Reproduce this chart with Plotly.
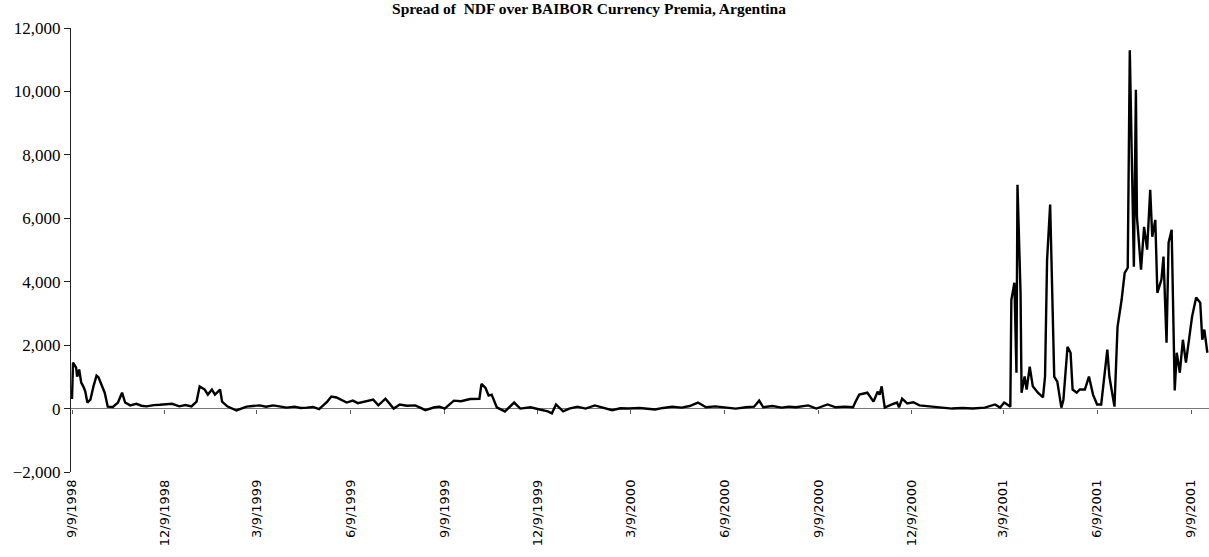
import plotly.graph_objects as go

# Dates and spread values (basis points)
dates = [
    "1998-09-09", "1998-09-10", "1998-09-13", "1998-09-14", "1998-09-16", "1998-09-18",
    "1998-09-20", "1998-09-22", "1998-09-24", "1998-09-27", "1998-09-30", "1998-10-03",
    "1998-10-05", "1998-10-08", "1998-10-11", "1998-10-14", "1998-10-19", "1998-10-24",
    "1998-10-28", "1998-10-31", "1998-11-05", "1998-11-11", "1998-11-16", "1998-11-21",
    "1998-11-28", "1998-12-04", "1998-12-10", "1998-12-16", "1998-12-23", "1998-12-29",
    "1999-01-04", "1999-01-09", "1999-01-12", "1999-01-17",
    "1999-01-20", "1999-01-24", "1999-01-27", "1999-02-01", "1999-02-03", "1999-02-08",
    "1999-02-17", "1999-02-22", "1999-02-27", "1999-03-05", "1999-03-12", "1999-03-18",
    "1999-03-25", "1999-03-31", "1999-04-07", "1999-04-15", "1999-04-21", "1999-04-27",
    "1999-05-03", "1999-05-09", "1999-05-17", "1999-05-21", "1999-05-26", "1999-06-05",
    "1999-06-11", "1999-06-16",
    "1999-06-22", "1999-07-01", "1999-07-06", "1999-07-13", "1999-07-21", "1999-07-27",
    "1999-08-03", "1999-08-11", "1999-08-16", "1999-08-21", "1999-08-30", "1999-09-04",
    "1999-09-09", "1999-09-18", "1999-09-25", "1999-10-04",
    "1999-10-13", "1999-10-15", "1999-10-19", "1999-10-22", "1999-10-25", "1999-10-30",
    "1999-11-07", "1999-11-16", "1999-11-22", "1999-12-02", "1999-12-10", "1999-12-19",
    "1999-12-23", "1999-12-27", "2000-01-03", "2000-01-09", "2000-01-17", "2000-01-25",
    "2000-02-03", "2000-02-12", "2000-02-20", "2000-02-28", "2000-03-07", "2000-03-18",
    "2000-03-25", "2000-04-02", "2000-04-10", "2000-04-19", "2000-04-28", "2000-05-06",
    "2000-05-14", "2000-05-22", "2000-05-31", "2000-06-09", "2000-06-20", "2000-06-30",
    "2000-07-08", "2000-07-13", "2000-07-17", "2000-07-26", "2000-08-04", "2000-08-11",
    "2000-08-18", "2000-08-30", "2000-09-07", "2000-09-18",
    "2000-09-26", "2000-10-05", "2000-10-13", "2000-10-15", "2000-10-19", "2000-10-27",
    "2000-11-02", "2000-11-06", "2000-11-08", "2000-11-10", "2000-11-13", "2000-11-20",
    "2000-11-25", "2000-11-27", "2000-11-30", "2000-12-05", "2000-12-11", "2000-12-17",
    "2000-12-23", "2000-12-30", "2001-01-08", "2001-01-18", "2001-01-28",
    "2001-02-07", "2001-02-19", "2001-03-01", "2001-03-06", "2001-03-10", "2001-03-13",
    "2001-03-16", "2001-03-17", "2001-03-20", "2001-03-22", "2001-03-23", "2001-03-26",
    "2001-03-27", "2001-03-30", "2001-04-01", "2001-04-04", "2001-04-07", "2001-04-12",
    "2001-04-17", "2001-04-19", "2001-04-21", "2001-04-24", "2001-04-25", "2001-04-28",
    "2001-05-01", "2001-05-05", "2001-05-07", "2001-05-11", "2001-05-14", "2001-05-16",
    "2001-05-20", "2001-05-23", "2001-05-28", "2001-06-01", "2001-06-05", "2001-06-09",
    "2001-06-13", "2001-06-19", "2001-06-21", "2001-06-26", "2001-06-29", "2001-07-03",
    "2001-07-06", "2001-07-09", "2001-07-11", "2001-07-13", "2001-07-15", "2001-07-17",
    "2001-07-18", "2001-07-22", "2001-07-25", "2001-07-28", "2001-07-31", "2001-08-02",
    "2001-08-05", "2001-08-07", "2001-08-11", "2001-08-13", "2001-08-16", "2001-08-18",
    "2001-08-21", "2001-08-24", "2001-08-26", "2001-08-29", "2001-09-01", "2001-09-04",
    "2001-09-10", "2001-09-14", "2001-09-18", "2001-09-20", "2001-09-22", "2001-09-25",
]
spread = [
    300, 1450, 1290, 1010, 1230, 820,
    700, 540, 190, 280, 700, 1040,
    980, 760, 500, 60, 50, 190,
    500, 190, 100, 150, 90, 70,
    110, 120, 130, 150, 70, 110,
    70, 220, 700, 600,
    440, 600, 440, 600, 220, 70,
    -60, 10, 60, 80, 100, 60,
    100, 70, 30, 60, 20, 30,
    50, -20, 220, 380, 350, 190,
    250, 170,
    220, 280, 100, 310, 0, 130,
    90, 100, 30, -50, 40, 60,
    0, 250, 230, 300,
    310, 780, 650, 410, 440, 40,
    -90, 190, 0, 40, -20, -90,
    -150, 130, -90, 0, 60, 0,
    100, 30, -50, 10, 0, 20,
    -10, -30, 20, 60, 30, 80,
    190, 40, 70, 30, 0, 40,
    60, 250, 40, 80, 30, 60,
    40, 100, 0, 130,
    40, 60, 40, 190, 440, 500,
    220, 530, 440, 700, 30, 130,
    190, 40, 310, 160, 200, 100,
    80, 60, 30, 0, 20,
    0, 30, 130, 30, 190, 130,
    60, 3430, 3970, 1130, 7060, 3650,
    500, 1010, 600, 1320, 700, 500,
    350, 1010, 4690, 6430, 4910, 1010,
    850, 30, 280, 1950, 1760, 600,
    500, 600, 600, 1010, 440, 130,
    130, 1860, 1010, 60, 2580, 3430,
    4280, 4440, 11300, 7300, 4470, 10050,
    6050, 4380, 5730, 5010, 6900, 5420,
    5950, 3650, 4070, 4790, 2080, 5230,
    5640, 570, 1760, 1130, 2170, 1450,
    2900, 3500, 3340, 2170, 2490, 1760,
]

tick_dates = [
    "1998-09-09", "1998-12-09", "1999-03-09", "1999-06-09", "1999-09-09", "1999-12-09",
    "2000-03-09", "2000-06-09", "2000-09-09", "2000-12-09", "2001-03-09", "2001-06-09",
    "2001-09-09",
]
tick_labels = [
    "9/9/1998", "12/9/1998", "3/9/1999", "6/9/1999", "9/9/1999", "12/9/1999",
    "3/9/2000", "6/9/2000", "9/9/2000", "12/9/2000", "3/9/2001", "6/9/2001",
    "9/9/2001",
]
y_ticks = [-2000, 0, 2000, 4000, 6000, 8000, 10000, 12000]

fig = go.Figure()
fig.add_trace(go.Scatter(
    x=dates, y=spread, mode="lines",
    line=dict(color="#000000", width=2.4),
    showlegend=False, hoverinfo="x+y",
))
# helper (empty) trace so the tick axis on the zero line is rendered
fig.add_trace(go.Scatter(x=[], y=[], xaxis="x2", showlegend=False))

x_range = ["1998-09-08", "2001-09-26 14:00"]

fig.update_layout(
    width=1209, height=557,
    margin=dict(l=71, r=0, t=28, b=85),
    paper_bgcolor="white", plot_bgcolor="white",
    title=dict(
        text="<b>Spread of  NDF over BAIBOR Currency Premia, Argentina</b>",
        x=589 / 1209, xanchor="center", xref="container",
        y=1 - 9 / 557, yanchor="middle", yref="container",
        font=dict(family="Liberation Serif, Times New Roman, serif", size=15.5, color="#000"),
    ),
    xaxis=dict(
        type="date", range=x_range, automargin=False,
        tickmode="array", tickvals=tick_dates, ticktext=tick_labels,
        tickangle=-90, showgrid=False, zeroline=False, showline=False,
        ticks="", ticklabelstandoff=4,
        tickfont=dict(family="DejaVu Sans, Verdana, sans-serif", size=13, color="#000"),
    ),
    xaxis2=dict(
        type="date", matches="x", overlaying="x", anchor="free", position=1 / 7,
        tickmode="array", tickvals=tick_dates, showticklabels=False,
        ticks="outside", ticklen=4, tickcolor="#555", tickwidth=1,
        showgrid=False, zeroline=False, showline=False, automargin=False,
    ),
    yaxis=dict(
        range=[-2000, 12000], tickmode="array", tickvals=y_ticks,
        tickformat=",", showgrid=False, automargin=False,
        zeroline=True, zerolinecolor="#777", zerolinewidth=1,
        showline=True, linecolor="#222", linewidth=1,
        ticks="outside", ticklen=6, tickcolor="#222",
        tickfont=dict(family="Liberation Serif, Times New Roman, serif", size=17, color="#000"),
    ),
)

fig.write_html(
    "out.html",
    config={"displayModeBar": False},
    post_script="document.body.style.margin='0';document.body.style.overflow='hidden';",
)
